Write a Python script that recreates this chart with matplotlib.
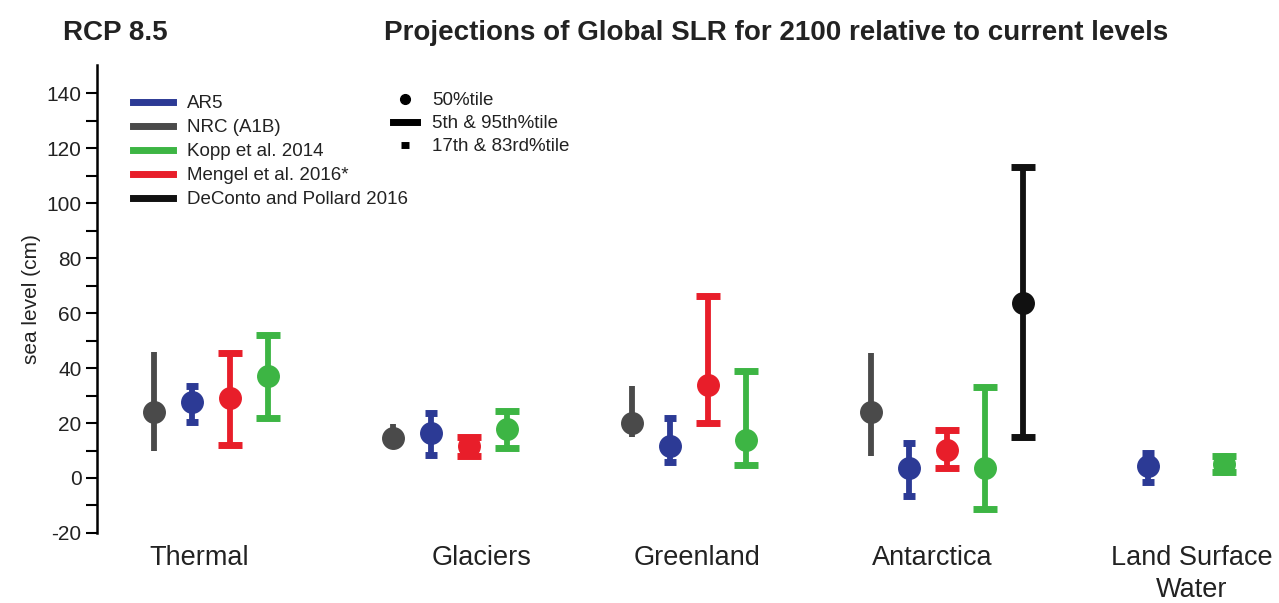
#!/usr/bin/env python3

import numpy as np
import matplotlib.pyplot as plt
from matplotlib.lines import Line2D

plt.rcParams["font.family"] = ["Liberation Sans", "DejaVu Sans"]
plt.rcParams["axes.unicode_minus"] = False

CATEGORIES = ["Thermal", "Glaciers", "Greenland", "Antarctica", "Land Surface\nWater"]

nan = np.nan

# AR5 : median + 17th/83rd percentiles (likely range)
AR5_MED = [27.5, 16.2, 11.8, 3.5, 4.5]
AR5_P17 = [20.2, 8.5, 6.0, -6.5, -1.5]
AR5_P83 = [33.5, 23.5, 21.8, 12.6, 9.0]

# NRC (A1B) : median + range, drawn without caps
NRC_MED = [24.0, 14.5, 20.0, 24.0, nan]
NRC_P05 = [10.0, 13.5, 15.0, 8.0, nan]
NRC_P95 = [46.0, 19.5, 33.5, 45.6, nan]

# Kopp et al. 2014
KOPP_MED = [37.0, 18.0, 13.8, 3.5, 5.0]
KOPP_P05 = [22.0, 11.0, 4.7, -11.3, 2.0]
KOPP_P95 = [52.0, 24.5, 39.0, 33.0, 8.0]

# Mengel et al. 2016*
MENGEL_MED = [29.0, 11.5, 33.8, 10.2, nan]
MENGEL_P05 = [12.0, 8.0, 20.1, 3.8, nan]
MENGEL_P95 = [45.5, 15.0, 66.3, 17.5, nan]

# DeConto and Pollard 2016
DECONTO_MED = [nan, nan, nan, 63.7, nan]
DECONTO_P05 = [nan, nan, nan, 15.0, nan]
DECONTO_P95 = [nan, nan, nan, 113.0, nan]

BLUE = "#2c3a95"
GRAY = "#4a4a4a"
GREEN = "#3db544"
RED = "#e81e2a"
BLACK = "#111111"
TEXT = "#222222"

SLOT = 0.159
LW = 4.2
DOT = 15.5
WIDE_CAP = 8.6
SMALL_CAP = 4.0


def draw_range(ax, slot, med, lo, hi, color, capsize):
    med, lo, hi = np.asarray(med), np.asarray(lo), np.asarray(hi)
    x = np.arange(len(med)) + slot * SLOT
    ok = np.isfinite(med)
    ax.errorbar(x[ok], med[ok], yerr=[med[ok] - lo[ok], hi[ok] - med[ok]],
                fmt="o", color=color, ms=DOT, elinewidth=LW,
                capsize=capsize, capthick=5, zorder=3)


fig = plt.figure(figsize=(12.79, 6.03), dpi=100)
ax = fig.add_axes([97 / 1279, 0.1161, 1 - 97 / 1279, 0.7761])

draw_range(ax, -1.5, NRC_MED, NRC_P05, NRC_P95, GRAY, 0)
draw_range(ax, -0.5, AR5_MED, AR5_P17, AR5_P83, BLUE, SMALL_CAP)
draw_range(ax, 0.5, MENGEL_MED, MENGEL_P05, MENGEL_P95, RED, WIDE_CAP)
draw_range(ax, 1.5, KOPP_MED, KOPP_P05, KOPP_P95, GREEN, WIDE_CAP)
draw_range(ax, 2.5, DECONTO_MED, DECONTO_P05, DECONTO_P95, BLACK, WIDE_CAP)

ax.set_xlim(-0.477, 4.469)
ax.set_ylim(-20, 150.2)

for side in ("top", "right", "bottom"):
    ax.spines[side].set_visible(False)
ax.spines["left"].set_linewidth(1.8)

ax.set_yticks(np.arange(-20, 141, 20))
ax.set_yticks(np.arange(-10, 141, 20), minor=True)
ax.tick_params(axis="y", which="both", direction="out", length=8, width=1.5,
               labelsize=15, labelcolor=TEXT, pad=3)

# category labels sit a little off the group centres in the original
label_shift = [-0.05, 0.134, 0.033, 0.02, 0.105]
ax.set_xticks(np.arange(len(CATEGORIES)) + np.array(label_shift))
ax.set_xticklabels(CATEGORIES, fontsize=19.5, color=TEXT, linespacing=1.3)
ax.tick_params(axis="x", length=0, pad=9)

ax.set_ylabel("sea level (cm)", fontsize=15, color=TEXT, labelpad=4)

fig.text(0.049, 0.945, "RCP 8.5", fontsize=20, fontweight="bold",
         color=TEXT, va="center", ha="left")
fig.text(0.607, 0.945, "Projections of Global SLR for 2100 relative to current levels",
         fontsize=20, fontweight="bold", color=TEXT, va="center", ha="center")

source_handles = [Line2D([], [], color=c, lw=5) for c in (BLUE, GRAY, GREEN, RED, BLACK)]
source_labels = ["AR5", "NRC (A1B)", "Kopp et al. 2014", "Mengel et al. 2016*",
                 "DeConto and Pollard 2016"]
leg1 = ax.legend(source_handles, source_labels, loc="upper left",
                 bbox_to_anchor=(0.0305, 0.936), frameon=False, fontsize=13.5,
                 handlelength=2.13, handletextpad=0.75, labelspacing=0.37,
                 borderpad=0, borderaxespad=0, labelcolor=TEXT)
ax.add_artist(leg1)

stat_handles = [
    Line2D([], [], color="k", marker="o", ls="none", ms=7),
    Line2D([], [], color="k", lw=5),
    Line2D([], [], color="k", marker="_", ls="none", ms=6, mew=5),
]
stat_labels = ["50%tile", "5th & 95th%tile", "17th & 83rd%tile"]
ax.legend(stat_handles, stat_labels, loc="upper left",
          bbox_to_anchor=(0.2504, 0.942), frameon=False, fontsize=13.5,
          handlelength=1.3, handletextpad=0.8, labelspacing=0.31,
          borderpad=0, borderaxespad=0, labelcolor=TEXT)

fig.savefig("out.png", dpi=100)
